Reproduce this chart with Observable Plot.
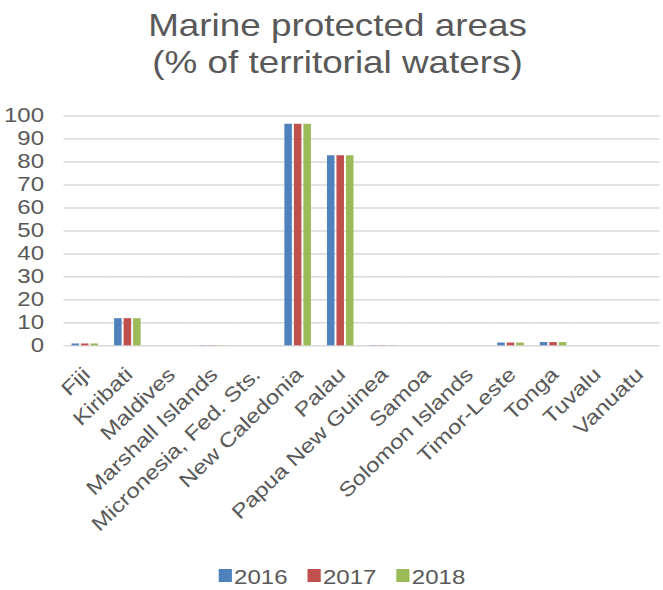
<!DOCTYPE html>
<html>
<head>
<meta charset="utf-8">
<script src="https://cdn.jsdelivr.net/npm/d3@7"></script>
<script src="https://cdn.jsdelivr.net/npm/@observablehq/plot@0.6"></script>
<style>
  html, body { margin: 0; padding: 0; background: #fff; overflow: hidden; }
  body { width: 663px; height: 590px; font-family: "Liberation Sans", Arial, sans-serif; color: #595959; }
  #title {
    margin: 0; padding-top: 7px; font-size: 30.7px; line-height: 37px; font-weight: normal;
    text-align: center; white-space: nowrap; transform: translateX(6px) scaleX(1.2);
  }
  #chart { height: 479px; }
  #legend {
    height: 30px; padding-top: 2px; font-size: 20px; line-height: 30px; text-align: center;
    white-space: nowrap; transform: translateX(10.2px) scaleX(1.2);
  }
  #legend .item { display: inline-block; margin: 0 8.15px; }
  #legend .sw { display: inline-block; width: 11.1px; height: 12.3px; margin-right: 2.2px; margin-bottom: 2.3px; vertical-align: baseline; }
</style>
</head>
<body>
<div id="title">Marine protected areas<br>(% of territorial waters)</div>
<div id="chart"></div>
<div id="legend"></div>
<script>
// Categories (x axis), one value per country for each year
const countries = [
  "Fiji", "Kiribati", "Maldives", "Marshall Islands", "Micronesia, Fed. Sts.",
  "New Caledonia", "Palau", "Papua New Guinea", "Samoa", "Solomon Islands",
  "Timor-Leste", "Tonga", "Tuvalu", "Vanuatu"
];
const years = ["2016", "2017", "2018"];
const v2016 = [0.8, 11.8, 0, 0.1, 0, 96.4, 82.7, 0.1, 0, 0, 1.2, 1.4, 0, 0];
const v2017 = [0.8, 11.8, 0, 0.1, 0, 96.4, 82.7, 0.1, 0, 0, 1.2, 1.4, 0, 0];
const v2018 = [0.8, 11.8, 0, 0.1, 0, 96.4, 82.7, 0.1, 0, 0, 1.2, 1.4, 0, 0];
const yTicks = [0, 10, 20, 30, 40, 50, 60, 70, 80, 90, 100];
const colors = ["#4F81BD", "#C0504D", "#9BBB59"];

const series = [v2016, v2017, v2018];
const rows = countries.flatMap((country, i) =>
  years.map((year, j) => ({country, year, value: series[j][i]}))
);

const textColor = "#595959";
const labelAngle = -44;   // slant of the category labels
const stretch = 1.2;      // horizontal widening of axis lettering

const chart = Plot.plot({
  width: 663,
  height: 479,
  marginTop: 34.5,
  marginBottom: 214.7,
  marginLeft: 63.5,
  marginRight: 3.5,
  style: {fontFamily: "'Liberation Sans', Arial, sans-serif", background: "transparent", overflow: "visible"},
  fx: {domain: countries, padding: 0, axis: null, label: null, round: false},
  x: {domain: years, paddingInner: 0.21, paddingOuter: 0.845, axis: null, round: false},
  y: {domain: [0, 100], axis: null},
  color: {domain: years, range: colors},
  marks: [
    Plot.ruleY(yTicks, {stroke: "#d9d9d9", strokeWidth: 1.5}),
    Plot.barY(rows, {fx: "country", x: "year", y: "value", fill: "year"}),
    Plot.axisY(yTicks, {
      tickSize: 0, tickPadding: 20, fontSize: 20, color: textColor, fill: textColor, label: null
    }),
    Plot.text(countries, {
      fx: d => d, text: d => d, frameAnchor: "bottom",
      textAnchor: "end", lineAnchor: "bottom", rotate: labelAngle,
      dx: 6, dy: 30, fontSize: 20, fill: textColor
    })
  ]
});

// Widen the axis lettering along its baseline, keeping each label's anchor point fixed
const tickStrings = new Set(yTicks.map(String));
const countryStrings = new Set(countries);
chart.querySelectorAll("text").forEach(t => {
  const s = t.textContent;
  const isTick = tickStrings.has(s), isCountry = countryStrings.has(s);
  if (!isTick && !isCountry) return;
  const tr = t.getAttribute("transform") || "";
  const m = tr.match(/translate\(\s*([-\d.e]+)[ ,]+([-\d.e]+)\s*\)/);
  let x, y;
  if (m) {
    x = +m[1]; y = +m[2];
  } else {
    x = +t.getAttribute("x") || 0; y = +t.getAttribute("y") || 0;
    t.removeAttribute("x"); t.removeAttribute("y");
  }
  const rot = isCountry ? ` rotate(${labelAngle})` : "";
  t.setAttribute("transform", `translate(${x},${y})${rot} scale(${stretch},1)`);
});

document.getElementById("chart").appendChild(chart);

// Legend
const legend = document.getElementById("legend");
years.forEach((year, i) => {
  const item = document.createElement("span");
  item.className = "item";
  const sw = document.createElement("span");
  sw.className = "sw";
  sw.style.background = colors[i];
  item.appendChild(sw);
  item.appendChild(document.createTextNode(year));
  legend.appendChild(item);
});
</script>
</body>
</html>
